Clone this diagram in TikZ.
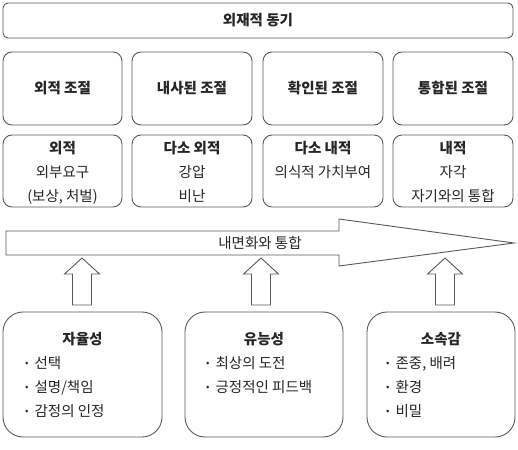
\documentclass[tikz,border=0pt]{standalone}
\usepackage{fontspec}
\setmainfont{Noto Sans CJK KR}
\newcommand\mybul{\raisebox{2.5pt}{\fontsize{10}{24}\selectfont •}\hspace{6pt}}
\begin{document}
\begin{tikzpicture}[x=1pt,y=-1pt,
  every node/.style={text=black!85, inner sep=0pt, font=\fontsize{14.5}{24}\selectfont},
  box/.style={draw=black!65, line width=0.9pt, rounded corners=#1, fill=white},
  box/.default=9pt,
  ttl/.style={font=\fontsize{14.5}{24}\selectfont\bfseries},
  arr/.style={draw=black!65, line width=0.9pt, fill=white, line join=miter}
]
\useasboundingbox (0,0) rectangle (518,449);
% top
\node[box=5pt, minimum width=510pt, minimum height=35pt] (top) at (258,20.5) {};
\node[ttl, anchor=base] (topt) at (258,26) {외재적 동기};
% row 2
\node[box, minimum width=119pt, minimum height=73pt] (r1) at (62.5,88.5) {};
\node[box, minimum width=120pt, minimum height=73pt] (r2) at (192,88.5) {};
\node[box, minimum width=120pt, minimum height=73pt] (r3) at (323,88.5) {};
\node[box, minimum width=120pt, minimum height=73pt] (r4) at (453,88.5) {};
\node[ttl, anchor=base] (rt1) at (62.5,94) {외적 조절};
\node[ttl, anchor=base] (rt2) at (192,94) {내사된 조절};
\node[ttl, anchor=base] (rt3) at (323,94) {확인된 조절};
\node[ttl, anchor=base] (rt4) at (453,94) {통합된 조절};
% row 3
\node[box, minimum width=119pt, minimum height=72pt] (d1) at (62.5,171) {};
\node[box, minimum width=120pt, minimum height=72pt] (d2) at (192,171) {};
\node[box, minimum width=120pt, minimum height=72pt] (d3) at (323,171) {};
\node[box, minimum width=120pt, minimum height=72pt] (d4) at (453,171) {};
\node[align=center, anchor=base] (t1) at (62.5,201) {\textbf{외적}\\외부요구\\(보상, 처벌)};
\node[align=center, anchor=base] (t2) at (192,201) {\textbf{다소 외적}\\강압\\비난};
\node[align=center, anchor=base] (t3) at (323,177) {\textbf{다소 내적}\\의식적 가치부여};
\node[align=center, anchor=base] (t4) at (453,201) {\textbf{내적}\\자각\\자기와의 통합};
% big arrow
\draw[arr] (6,231) -- (339,231) -- (339,219) -- (514,243) -- (339,266) -- (339,255) -- (6,255) -- cycle;
\node[anchor=base] (big) at (260,248) {내면화와 통합};
% bottom boxes
\node[box=20pt, minimum width=159pt, minimum height=125pt] (b1) at (82.5,374.5) {};
\node[box=20pt, minimum width=158pt, minimum height=125pt] (b2) at (264,374.5) {};
\node[box=20pt, minimum width=148pt, minimum height=125pt] (b3) at (441,374.5) {};
\node[ttl, anchor=base] (h1) at (82.5,344.5) {자율성};
\node[ttl, anchor=base] (h2) at (264,344.5) {유능성};
\node[ttl, anchor=base] (h3) at (441,344.5) {소속감};
\node[align=left, anchor=base west] (l1) at (25,416.5) {\mybul 선택\\\mybul 설명/책임\\\mybul 감정의 인정};
\node[align=left, anchor=base west] (l2) at (206,392.5) {\mybul 최상의 도전\\\mybul 긍정적인 피드백};
\node[align=left, anchor=base west] (l3) at (386,416.5) {\mybul 존중, 배려\\\mybul 환경\\\mybul 비밀};
% small up arrows
\foreach \c/\n in {82/b1,261/b2,445/b3}{
  \draw[arr] (\c-9.5,305) -- (\c-9.5,274) -- (\c-17.5,274) -- (\c,258) -- (\c+17.5,274) -- (\c+9.5,274) -- (\c+9.5,305) -- cycle;
}
\end{tikzpicture}
\end{document}
